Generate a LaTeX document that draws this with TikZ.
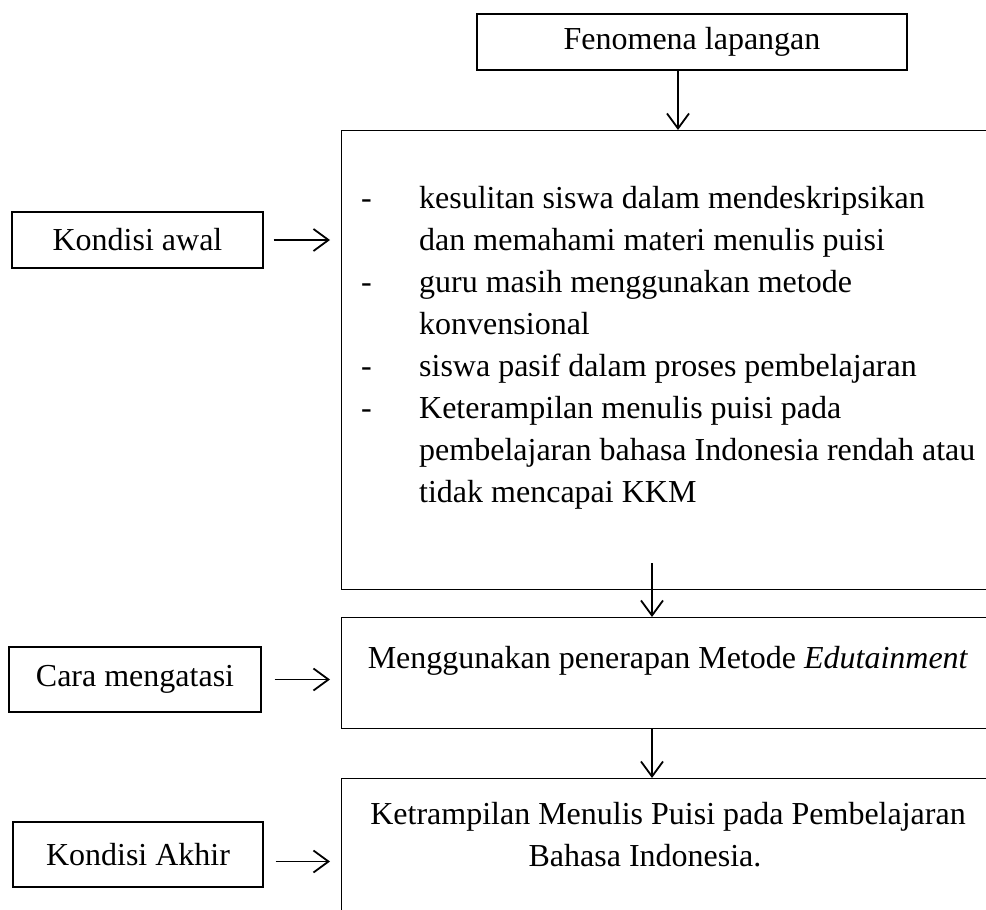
\documentclass[tikz,border=0pt]{standalone}
\usepackage{fontspec}
\setmainfont{Liberation Serif}
\usetikzlibrary{arrows.meta}
\begin{document}
\begin{tikzpicture}[x=1pt,y=-1pt,
  box/.style={draw, line width=1.3pt, inner sep=0pt},
  lbl/.style={inner sep=0pt, font=\fontsize{32}{42}\selectfont},
  arr/.style={line width=1.8pt, -{Straight Barb[length=15pt,width=22pt,line width=1.8pt]}}]
\path[use as bounding box] (0,0) rectangle (986,910);
\clip (0,0) rectangle (986,910);
% main boxes
\node[box, minimum width=430pt, minimum height=56pt, lbl] (top) at (692,42) {Fenomena lapangan};
\node[box, anchor=north west, minimum width=700pt, minimum height=459pt] (big) at (341,130) {};
\node[box, anchor=north west, minimum width=700pt, minimum height=111pt] (box2) at (341,617) {};
\node[box, anchor=north west, minimum width=700pt, minimum height=200pt] (box3) at (341,778) {};
% left boxes
\node[box, minimum width=251pt, minimum height=56pt, lbl] (kawal) at (137.5,240) {Kondisi awal};
\node[box, minimum width=252pt, minimum height=65pt, lbl] (cara) at (135,679.5) {Cara mengatasi};
\node[box, minimum width=250pt, minimum height=65pt, lbl] (akhir) at (138,854.5) {Kondisi Akhir};
% texts
\node[lbl, anchor=north west, align=left] (list) at (361,186) {%
\makebox[58pt][l]{-}kesulitan siswa dalam mendeskripsikan\\
\hspace*{58pt}dan memahami materi menulis puisi\\
\makebox[58pt][l]{-}guru masih menggunakan metode\\
\hspace*{58pt}konvensional\\
\makebox[58pt][l]{-}siswa pasif dalam proses pembelajaran\\
\makebox[58pt][l]{-}Keterampilan menulis puisi pada\\
\hspace*{58pt}pembelajaran bahasa Indonesia rendah atau\\
\hspace*{58pt}tidak mencapai KKM};
\node[lbl, anchor=base] (t2) at (668,668) {Menggunakan penerapan Metode \textit{Edutainment}};
\node[lbl, anchor=north, align=center] (t3) at (668,802) {Ketrampilan Menulis Puisi pada Pembelajaran\\Bahasa Indonesia.\hspace*{46pt}};
% arrows
\coordinate (a2) at (652,563);
\draw[arr] ([xshift=-14pt]top.south) -- ([xshift=-14pt]top.south |- big.north);
\draw[arr] (a2) -- (a2 |- box2.north);
\draw[arr] (box2.south -| a2) -- (a2 |- box3.north);
\draw[arr, shorten <=10pt, shorten >=11pt] (kawal.east) -- (kawal.east -| big.west);
\draw[arr, shorten <=13pt, shorten >=11pt] (cara.east) -- (cara.east -| box2.west);
\draw[arr, shorten <=12pt, shorten >=11pt] ([yshift=-7pt]akhir.east) -- ([yshift=-7pt]akhir.east -| box3.west);
\end{tikzpicture}
\end{document}
